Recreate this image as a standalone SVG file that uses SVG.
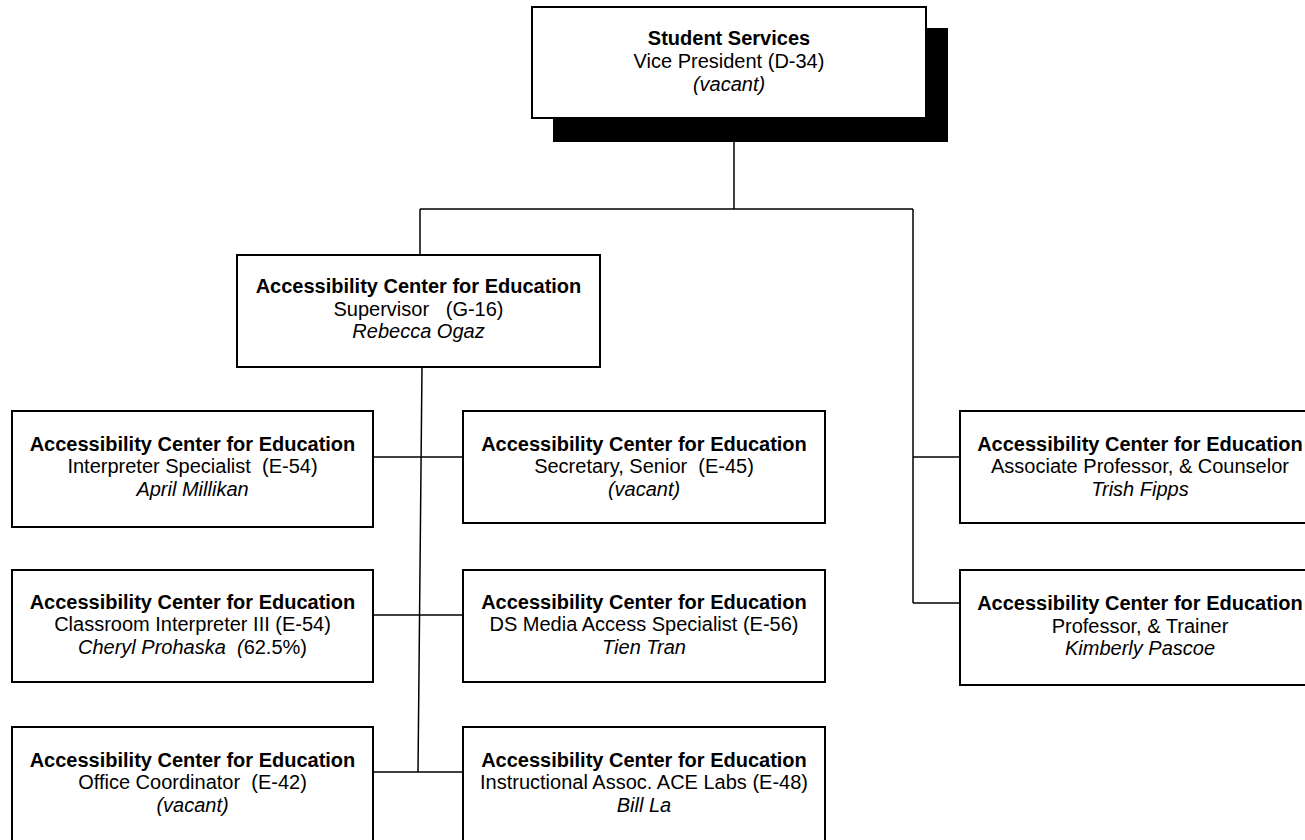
<svg xmlns="http://www.w3.org/2000/svg" width="1305" height="840" viewBox="0 0 1305 840">
<style>
.box{fill:#fff;stroke:#000;stroke-width:2}
.ln{stroke:#000;stroke-width:1.5;fill:none}
text{font-family:"Liberation Sans",Arial,sans-serif;font-size:20px;fill:#000;text-anchor:middle}
.b{font-weight:bold}
.i{font-style:italic}
</style>
<rect width="1305" height="840" fill="#fff"/>
<g id="connectors">
<path class="ln" d="M734 142V209M420 209H913M420 209V255M913 209V603M913 457H960M913 603H960"/>
<path class="ln" d="M422 367L418 772M373 457H463M373 615H463M373 772H463"/>
</g>
<g id="vp">
<rect x="553" y="28" width="395" height="114" fill="#000"/>
<rect class="box" x="532" y="7" width="394" height="111"/>
<text x="729" y="45" class="b">Student Services</text>
<text x="729" y="68">Vice President (D-34)</text>
<text x="729" y="91" class="i">(vacant)</text>
</g>
<g id="supervisor">
<rect class="box" x="237" y="255" width="363" height="112"/>
<text x="418.5" y="293" class="b">Accessibility Center for Education</text>
<text x="418.5" y="316" xml:space="preserve">Supervisor   (G-16)</text>
<text x="418.5" y="338" class="i">Rebecca Ogaz</text>
</g>
<g id="interpreter">
<rect class="box" x="12" y="411" width="361" height="116"/>
<text x="192.5" y="451" class="b">Accessibility Center for Education</text>
<text x="192.5" y="473" xml:space="preserve">Interpreter Specialist  (E-54)</text>
<text x="192.5" y="496" class="i">April Millikan</text>
</g>
<g id="secretary">
<rect class="box" x="463" y="411" width="362" height="112"/>
<text x="644" y="451" class="b">Accessibility Center for Education</text>
<text x="644" y="473" xml:space="preserve">Secretary, Senior  (E-45)</text>
<text x="644" y="496" class="i">(vacant)</text>
</g>
<g id="classroom">
<rect class="box" x="12" y="570" width="361" height="112"/>
<text x="192.5" y="609" class="b">Accessibility Center for Education</text>
<text x="192.5" y="631">Classroom Interpreter III (E-54)</text>
<text x="192.5" y="654" xml:space="preserve"><tspan class="i">Cheryl Prohaska  (</tspan>62.5%)</text>
</g>
<g id="media">
<rect class="box" x="463" y="570" width="362" height="112"/>
<text x="644" y="609" class="b">Accessibility Center for Education</text>
<text x="644" y="631">DS Media Access Specialist (E-56)</text>
<text x="644" y="654" class="i">Tien Tran</text>
</g>
<g id="office">
<rect class="box" x="12" y="727" width="361" height="130"/>
<text x="192.5" y="767" class="b">Accessibility Center for Education</text>
<text x="192.5" y="789" xml:space="preserve">Office Coordinator  (E-42)</text>
<text x="192.5" y="812" class="i">(vacant)</text>
</g>
<g id="labs">
<rect class="box" x="463" y="727" width="362" height="130"/>
<text x="644" y="767" class="b">Accessibility Center for Education</text>
<text x="644" y="789">Instructional Assoc. ACE Labs (E-48)</text>
<text x="644" y="812" class="i">Bill La</text>
</g>
<g id="counselor">
<rect class="box" x="960" y="411" width="370" height="112"/>
<text x="1140" y="451" class="b">Accessibility Center for Education</text>
<text x="1140" y="473">Associate Professor, &amp; Counselor</text>
<text x="1140" y="496" class="i">Trish Fipps</text>
</g>
<g id="trainer">
<rect class="box" x="960" y="570" width="370" height="115"/>
<text x="1140" y="610" class="b">Accessibility Center for Education</text>
<text x="1140" y="633">Professor, &amp; Trainer</text>
<text x="1140" y="655" class="i">Kimberly Pascoe</text>
</g>
</svg>
